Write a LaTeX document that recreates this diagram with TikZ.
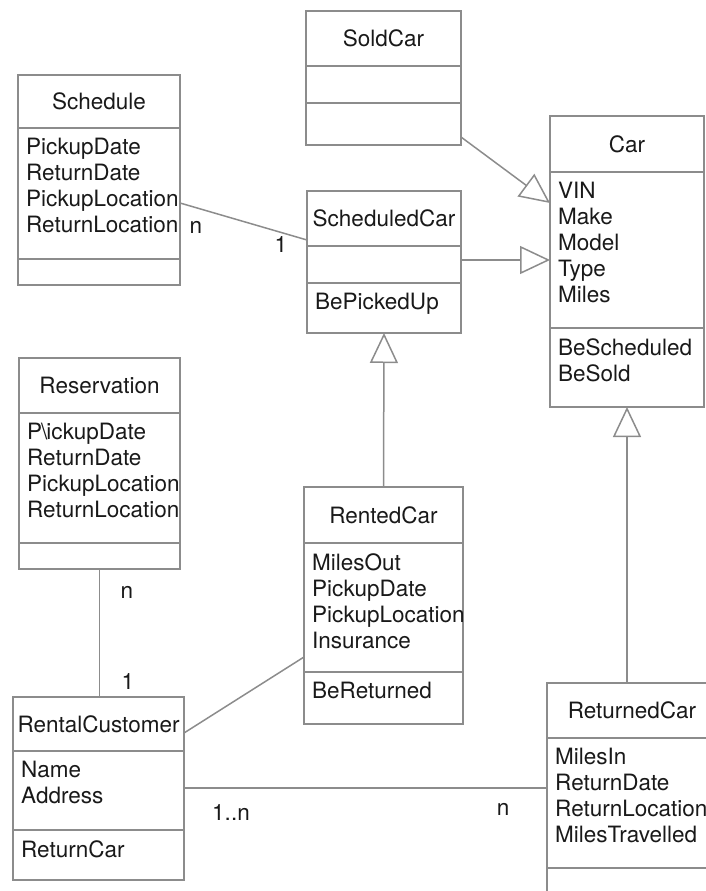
\documentclass[tikz,border=0pt]{standalone}
\usepackage{fontspec}
\setmainfont{TeX Gyre Heros}
\usetikzlibrary{arrows.meta,calc}

% class box: name, top-left, width, heights of the three parts, title, attributes, operations
\newcommand{\umlclass}[9]{%
  \node[clsbox, minimum width=#3, minimum height=#4+#5+#6] (#1) at #2 {};
  \draw[sepline] ([yshift=-#4]#1.north west) -- ([yshift=-#4]#1.north east);
  \draw[sepline] ([yshift=-#4-#5]#1.north west) -- ([yshift=-#4-#5]#1.north east);
  \node[clstitle] (#1-name) at ([yshift=-#4/2]#1.north) {#7};
  \node[clsattr] (#1-attr) at ([yshift=-#4]#1.north west) {#8};
  \node[clsattr] (#1-ops) at ([yshift=-#4-#5]#1.north west) {#9};
}

\begin{document}
\begin{tikzpicture}[x=1pt,y=-1pt,
    every node/.style={font=\fontsize{22.5}{26}\selectfont, text=black!90},
    clsbox/.style={draw=black!45, line width=1.5pt, anchor=north west, inner sep=0pt, outer sep=0pt},
    sepline/.style={draw=black!45, line width=1.5pt},
    clstitle/.style={inner sep=0pt},
    clsattr/.style={anchor=north west, align=left, inner xsep=8pt, inner ysep=10pt},
    link/.style={draw=black!45, line width=1.5pt},
    gen/.style={link, -{Triangle[open, length=30pt, width=28pt]}},
    mult/.style={inner sep=0pt}]
  \useasboundingbox (0,0) rectangle (706,891);
  \clip (0,0) rectangle (706,891);

  % classes
  \umlclass{sold}{(306,11)}{155}{55}{37}{42}{SoldCar}{}{}
  \umlclass{sched}{(18,75)}{162}{53}{131}{26}{Schedule}
    {PickupDate\\ReturnDate\\PickupLocation\\ReturnLocation}{}
  \umlclass{schedcar}{(307,191)}{154}{55}{37}{50}{ScheduledCar}{}{BePickedUp}
  \umlclass{car}{(550,116)}{154}{56}{156}{79}{Car}
    {VIN\\Make\\Model\\Type\\Miles}{BeScheduled\\BeSold}
  \umlclass{resv}{(19,358)}{161}{55}{130}{26}{Reservation}
    {P\kern-1pt\textbackslash\kern-1pt ickupDate\\ReturnDate\\PickupLocation\\ReturnLocation}{}
  \umlclass{rented}{(304,487)}{159}{56}{129}{52}{RentedCar}
    {MilesOut\\PickupDate\\PickupLocation\\Insurance}{BeReturned}
  \umlclass{returned}{(547,683)}{170}{55}{130}{37}{ReturnedCar}
    {MilesIn\\ReturnDate\\ReturnLocation\\MilesTravelled}{}
  \umlclass{cust}{(13,697)}{171}{54}{79}{50}{RentalCustomer}
    {Name\\Address}{ReturnCar}

  % generalisations
  \draw[gen] (sold.east |- 0,137) -- (car.west |- 0,203);
  \draw[gen] (schedcar.east |- 0,260) -- (car.west |- 0,260);
  \draw[gen] (rented.north) -- (schedcar.south);
  \draw[gen] (returned.north -| car.south) -- (car.south);

  % associations
  \draw[link] (sched.east |- 0,203) -- (schedcar.west |- 0,240);
  \draw[link] (resv.south) -- (resv.south |- cust.north);
  \draw[link] (cust.east |- 0,733) -- (rented.west |- 0,657);
  \draw[link] (cust.east |- 0,788) -- (returned.west |- 0,788);

  % multiplicities
  \node[mult] (m-sched) at (196,227) {n};
  \node[mult] (m-schedcar) at (281,245) {1};
  \node[mult] (m-resv) at (127,592) {n};
  \node[mult] (m-cust) at (128,682) {1};
  \node[mult] (m-custret) at (231,813) {1..n};
  \node[mult] (m-ret) at (503,809) {n};
\end{tikzpicture}
\end{document}
